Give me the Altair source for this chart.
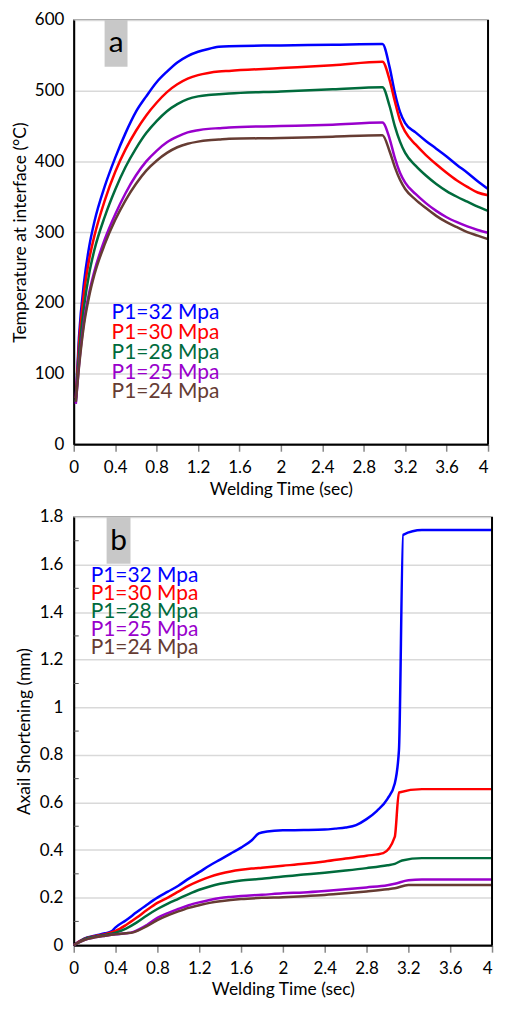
import altair as alt
import pandas as pd

FONT = "Lato"
SERIES = ["P1=32 Mpa", "P1=30 Mpa", "P1=28 Mpa", "P1=25 Mpa", "P1=24 Mpa"]
COLORS = ["#0000FF", "#FF0000", "#006B3C", "#9900CC", "#663C33"]
X_TICKS = [0, 0.4, 0.8, 1.2, 1.6, 2, 2.4, 2.8, 3.2, 3.6, 4]
Y_TICKS_A = [0, 100, 200, 300, 400, 500, 600]
Y_TICKS_B = [0, 0.2, 0.4, 0.6, 0.8, 1.0, 1.2, 1.4, 1.6, 1.8]
Y_MINOR_B = [0.1, 0.3, 0.5, 0.7, 0.9, 1.1, 1.3, 1.5, 1.7]

# ---- panel a: temperature at interface (°C) ----
T_A = [0.02, 0.05, 0.1, 0.15, 0.2, 0.3, 0.4, 0.5, 0.6, 0.7, 0.8, 0.9, 1.0, 1.1, 1.2, 1.3,
       1.4, 1.5, 2.0, 2.5, 2.98, 3.05, 3.1, 3.15, 3.2, 3.3, 3.4, 3.5, 3.6, 3.7, 3.8, 3.9, 4.0]
A32 = [65, 150, 230, 280, 315, 365, 405, 440, 470, 492, 512, 527, 540, 549, 555, 559, 562,
       563, 564, 565, 566, 533, 497, 470, 454, 441, 429, 418, 407, 395, 384, 372, 361]
A30 = [65, 140, 215, 262, 295, 345, 385, 417, 443, 465, 483, 498, 509, 517, 522, 525, 527,
       528, 532, 536, 541, 515, 485, 458, 442, 424, 409, 396, 384, 373, 364, 356, 352]
A28 = [60, 125, 195, 242, 275, 322, 360, 392, 418, 440, 457, 471, 481, 488, 492, 494, 495,
       496, 499, 502, 505, 478, 450, 428, 412, 394, 380, 368, 358, 350, 343, 336, 330]
A25 = [57, 110, 175, 215, 245, 290, 325, 355, 380, 400, 415, 427, 435, 441, 444, 446, 447,
       448, 450, 452, 455, 432, 405, 384, 370, 354, 341, 330, 321, 314, 308, 303, 299]
A24 = [60, 108, 170, 210, 240, 283, 317, 345, 368, 387, 401, 412, 420, 425, 428, 430, 431,
       432, 433, 435, 437, 414, 392, 374, 361, 346, 334, 323, 314, 307, 300, 295, 290]

# ---- panel b: axial shortening (mm) ----
T_B32 = [0, 0.05, 0.1, 0.2, 0.3, 0.36, 0.4, 0.5, 0.6, 0.7, 0.8, 0.9, 1.0, 1.1, 1.2, 1.3, 1.4,
         1.5, 1.6, 1.7, 1.77, 1.85, 2.0, 2.2, 2.4, 2.5, 2.6, 2.7, 2.8, 2.9, 3.0, 3.07, 3.11,
         3.15, 3.33, 4.0]
B32 = [0, 0.015, 0.028, 0.04, 0.05, 0.058, 0.075, 0.105, 0.138, 0.17, 0.2, 0.225, 0.25, 0.28,
       0.307, 0.335, 0.36, 0.385, 0.41, 0.44, 0.47, 0.478, 0.483, 0.484, 0.486, 0.49, 0.495,
       0.505, 0.53, 0.565, 0.615, 0.68, 0.82, 1.725, 1.745, 1.745]
T_B30 = [0, 0.05, 0.1, 0.2, 0.3, 0.4, 0.5, 0.6, 0.7, 0.8, 0.9, 1.0, 1.1, 1.2, 1.3, 1.4, 1.5,
         1.6, 1.7, 1.8, 2.0, 2.2, 2.4, 2.6, 2.8, 2.96, 3.07, 3.11, 3.33, 4.0]
B30 = [0, 0.015, 0.027, 0.038, 0.046, 0.06, 0.085, 0.115, 0.148, 0.178, 0.2, 0.225, 0.25,
       0.27, 0.287, 0.3, 0.31, 0.317, 0.322, 0.326, 0.334, 0.342, 0.352, 0.364, 0.376, 0.387,
       0.455, 0.642, 0.656, 0.656]
T_B28 = [0, 0.05, 0.1, 0.2, 0.3, 0.4, 0.5, 0.6, 0.7, 0.8, 0.9, 1.0, 1.1, 1.2, 1.3, 1.4, 1.5,
         1.6, 1.8, 2.0, 2.2, 2.4, 2.6, 2.8, 3.0, 3.07, 3.14, 3.33, 4.0]
B28 = [0, 0.013, 0.025, 0.036, 0.043, 0.053, 0.07, 0.095, 0.125, 0.152, 0.175, 0.195, 0.215,
       0.233, 0.247, 0.258, 0.266, 0.272, 0.279, 0.289, 0.297, 0.305, 0.314, 0.324, 0.336,
       0.342, 0.356, 0.366, 0.366]
T_B25 = [0, 0.05, 0.1, 0.2, 0.3, 0.4, 0.5, 0.57, 0.7, 0.8, 0.9, 1.0, 1.1, 1.2, 1.3, 1.4, 1.5,
         1.6, 1.8, 2.0, 2.2, 2.4, 2.6, 2.8, 3.0, 3.07, 3.2, 3.33, 4.0]
B25 = [0, 0.012, 0.022, 0.033, 0.04, 0.046, 0.05, 0.056, 0.085, 0.115, 0.135, 0.152, 0.168,
       0.18, 0.19, 0.198, 0.203, 0.207, 0.212, 0.218, 0.222, 0.228, 0.235, 0.243, 0.252,
       0.258, 0.273, 0.276, 0.276]
T_B24 = T_B25
B24 = [0, 0.012, 0.022, 0.033, 0.04, 0.046, 0.05, 0.054, 0.08, 0.105, 0.125, 0.142, 0.157,
       0.168, 0.178, 0.185, 0.19, 0.194, 0.199, 0.202, 0.206, 0.211, 0.218, 0.226, 0.235,
       0.239, 0.253, 0.253, 0.253]


def long_df(times, values):
    rows = []
    for name, ts, vs in zip(SERIES, times, values):
        for t, v in zip(ts, vs):
            rows.append({"t": t, "v": v, "s": name})
    return pd.DataFrame(rows)


df_a = long_df([T_A] * 5, [A32, A30, A28, A25, A24])
df_b = long_df([T_B32, T_B30, T_B28, T_B25, T_B24], [B32, B30, B28, B25, B24])

color = alt.Color("s:N", scale=alt.Scale(domain=SERIES, range=COLORS), legend=None)

LABEL_FS = 17
TITLE_FS = 17.5


def x_enc():
    return alt.X(
        "t:Q",
        scale=alt.Scale(domain=[0, 4], nice=False),
        axis=alt.Axis(values=X_TICKS, labelExpr="format(datum.value, '~g')",
                      labelAlign={"condition": {"test": "datum.value >= 4", "value": "right"},
                                  "value": "center"},
                      title="Welding Time (sec)", grid=False, tickSize=7,
                      tickColor="#888888", tickWidth=1.5, domainColor="black",
                      domainWidth=2, labelPadding=8, titlePadding=5),
    )


def legend_layers(x0, y0, dy, size):
    layers = []
    for i, (name, col) in enumerate(zip(SERIES, COLORS)):
        layers.append(
            alt.Chart(pd.DataFrame({"label": [name]}))
            .mark_text(align="left", baseline="alphabetic", fontSize=size, color=col, font=FONT)
            .encode(x=alt.value(x0), y=alt.value(y0 + dy * i), text="label:N")
        )
    return layers


def tag_layers(letter, x0, x1, h, baseline_y):
    box = alt.Chart(pd.DataFrame({"k": [letter]})).mark_rect(color="#c8c8c8").encode(
        x=alt.value(x0), x2=alt.value(x1), y=alt.value(0), y2=alt.value(h))
    txt = alt.Chart(pd.DataFrame({"k": [letter]})).mark_text(
        align="center", baseline="alphabetic", fontSize=30, color="black", font=FONT
    ).encode(x=alt.value((x0 + x1) / 2), y=alt.value(baseline_y), text="k:N")
    return [box, txt]


WA, HA = 416, 426
WB, HB = 420, 430

lines_a = alt.Chart(df_a).mark_line(interpolate="monotone", strokeWidth=2.5).encode(
    x=x_enc(),
    y=alt.Y("v:Q", scale=alt.Scale(domain=[0, 600], nice=False),
            axis=alt.Axis(values=Y_TICKS_A, title="Temperature at interface (°C)", grid=True,
                          gridColor="#d9d9d9", gridWidth=1.5, ticks=False, domainColor="black",
                          domainWidth=2, labelPadding=10, minExtent=40, maxExtent=40,
                          titlePadding=4)),
    color=color,
)
right_a = alt.Chart(pd.DataFrame({"k": [0]})).mark_rule(color="black", strokeWidth=2).encode(
    x=alt.value(WA), y=alt.value(0), y2=alt.value(HA))

panel_a = alt.layer(
    lines_a, right_a, *tag_layers("a", 31, 54, 47, 32), *legend_layers(38, 300, 20, 21)
).properties(width=WA, height=HA)

lines_b = alt.Chart(df_b).mark_line(interpolate="monotone").encode(
    x=x_enc(),
    y=alt.Y("v:Q", scale=alt.Scale(domain=[0, 1.8], nice=False),
            axis=alt.Axis(values=Y_TICKS_B, labelExpr="format(datum.value, '~g')",
                          title="Axail Shortening (mm)", grid=True, gridColor="#d9d9d9",
                          gridWidth=1.5, ticks=False, domainColor="black", domainWidth=2,
                          labelPadding=11, minExtent=36, maxExtent=36, titlePadding=4)),
    color=color,
    strokeWidth=alt.StrokeWidth("s:N", scale=alt.Scale(domain=SERIES, range=[2.5, 2.5, 2.5, 3.5, 2.5]),
                                legend=None),
)
minor_b = alt.Chart(pd.DataFrame({"v": Y_MINOR_B})).mark_rule(color="#555555", strokeWidth=1).encode(
    y="v:Q", x=alt.value(0), x2=alt.value(5))
right_b = alt.Chart(pd.DataFrame({"k": [0]})).mark_rule(color="black", strokeWidth=2).encode(
    x=alt.value(WB), y=alt.value(0), y2=alt.value(HB))

panel_b = alt.layer(
    lines_b, minor_b, right_b, *tag_layers("b", 33, 57, 47, 33), *legend_layers(17, 65, 18.2, 21)
).properties(width=WB, height=HB)

chart = (
    alt.vconcat(panel_a, panel_b, spacing=8)
    .properties(padding={"left": 3, "top": 0, "right": 0, "bottom": 0})
    .configure(font=FONT)
    .configure_view(stroke="#808080", strokeWidth=1.5)
    .configure_axis(labelFont=FONT, titleFont=FONT, labelFontSize=LABEL_FS, titleFontSize=TITLE_FS,
                    labelColor="black", titleColor="black", titleFontWeight="normal")
)

chart.save("out.html", embed_options={"renderer": "svg", "actions": False})
